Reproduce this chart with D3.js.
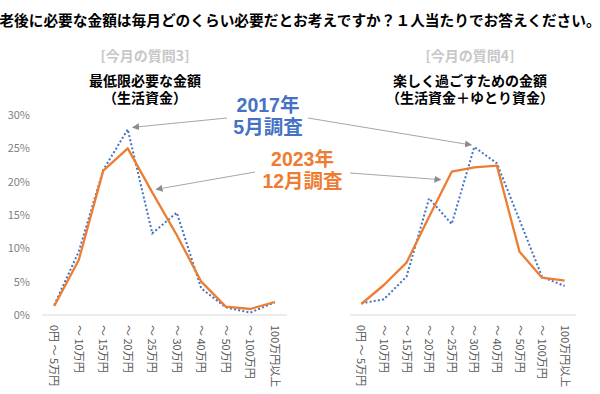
<!DOCTYPE html>
<html><head><meta charset="utf-8">
<script src="https://cdn.jsdelivr.net/npm/d3@7"></script>
<style>
html,body{margin:0;padding:0;background:#fff;}
#wrap{position:relative;width:600px;height:394px;font-family:"Noto Sans CJK JP","Noto Sans",sans-serif;}
svg{display:block;position:absolute;left:0;top:0;font-family:"Noto Sans CJK JP","Noto Sans",sans-serif;}
.lbl{position:absolute;white-space:nowrap;text-align:center;transform:translateX(-50%);font-weight:bold;
     font-family:"Liberation Sans","Noto Sans CJK JP",sans-serif;}
</style></head>
<body>
<div id="wrap"><svg id="chart" width="600" height="394"></svg></div>
<script>
const categories = ["0円 〜 5万円","〜 10万円","〜 15万円","〜 20万円","〜 25万円","〜 30万円","〜 40万円","〜 50万円","〜 100万円","100万円以上"];
const yTicks = [0, 5, 10, 15, 20, 25, 30];
// 最低限必要な金額 (%)
const min2017 = [1.5, 9.5, 21.75, 27.85, 12.25, 15.35, 4.0, 1.15, 0.35, 1.9];
const min2023 = [1.35, 8.25, 21.65, 25.0, 18.4, 12.0, 5.0, 1.25, 0.9, 1.95];
// 楽しく過ごすための金額 (%)
const comf2017 = [1.75, 2.35, 5.75, 17.5, 13.65, 25.2, 22.75, 14.25, 5.7, 4.35];
const comf2023 = [1.65, 4.5, 7.85, 14.75, 21.5, 22.15, 22.4, 9.5, 5.6, 5.15];

const BLUE = "#4472C4", ORANGE = "#ED7D31", ARROW = "#a6a6a6";
const svg = d3.select("#chart");
const wrap = d3.select("#wrap");

svg.append("defs").append("marker")
  .attr("id","ah").attr("viewBox","0 0 10 10").attr("refX",9).attr("refY",5)
  .attr("markerWidth",7).attr("markerHeight",7).attr("orient","auto")
  .append("path").attr("d","M0,0 L10,5 L0,10 z").attr("fill","#8c8c8c");

const y = d3.scaleLinear().domain([0, 30]).range([315, 115]);

svg.append("text").attr("x", 300).attr("y", 26).attr("text-anchor","middle")
  .attr("font-size", 14.7).attr("font-weight","bold").attr("fill","#000")
  .text("老後に必要な金額は毎月どのくらい必要だとお考えですか？１人当たりでお答えください。");

// two-line label as a single block; metrics of primary font (Liberation Sans)
const ASC = 0.905, DESC = 0.212;
function block(cx, yBase, lines, size, gap, color) {
  const top = yBase - ((gap - (ASC + DESC) * size) / 2 + ASC * size);
  const d = wrap.append("div").attr("class","lbl")
    .style("left", cx + "px").style("top", top + "px")
    .style("font-size", size + "px").style("line-height", gap + "px").style("color", color);
  d.html(lines.join("<br>"));
}

function panel(x0, x1, s2017, s2023, tag, line1, line2, cx, showY) {
  const x = d3.scaleBand().domain(categories).range([x0, x1]);
  const px = d => x(d) + x.bandwidth()/2;
  const g = svg.append("g");
  g.append("text").attr("x", cx).attr("y", 60.5).attr("text-anchor","middle")
    .attr("font-size", 14).attr("font-weight","bold").attr("fill","#c8c8c8").text(tag);
  block(cx, 86.5, [line1, line2], 14, 16.5, "#000");
  g.append("line").attr("x1", x0).attr("x2", x1).attr("y1", y(0)).attr("y2", y(0))
    .attr("stroke","#d9d9d9").attr("stroke-width",1);
  if (showY) {
    g.selectAll(".yt").data(yTicks).join("text")
      .attr("x", 30).attr("y", d => y(d)).attr("dy","0.35em").attr("text-anchor","end")
      .attr("font-size", 11).attr("fill","#7f7f7f").text(d => d + "%");
  }
  g.selectAll(".cl").data(categories).join("text")
    .attr("transform", d => `translate(${px(d)},325) rotate(90)`)
    .attr("dy","0.35em").attr("font-size", 11).attr("fill","#595959").text(d => d);
  const line = d3.line().x((d,i) => px(categories[i])).y(d => y(d));
  g.append("path").attr("d", line(s2017)).attr("fill","none").attr("stroke", BLUE)
    .attr("stroke-width", 2).attr("stroke-dasharray","2,2.2");
  g.append("path").attr("d", line(s2023)).attr("fill","none").attr("stroke", ORANGE)
    .attr("stroke-width", 2.3).attr("stroke-linejoin","round");
  return {x: px, y};
}

const L = panel(42, 287, min2017, min2023, "[今月の質問3]", "最低限必要な金額", "（生活資金）", 145, true);
const R = panel(350, 576, comf2017, comf2023, "[今月の質問4]", "楽しく過ごすための金額", "（生活資金＋ゆとり資金）", 470, false);

block(268, 113, ["2017年", "5月調査"], 19.5, 21.8, BLUE);
block(302.5, 167, ["2023年", "12月調査"], 19.5, 21.8, ORANGE);

const arrows = [
  {from:[227,118], p:L, i:3, v:min2017[3], off:[5,-2]},
  {from:[308,118], p:R, i:5, v:comf2017[5], off:[-3,-2]},
  {from:[255,172], p:L, i:4, v:min2023[4], off:[4,-3]},
  {from:[350,173], p:R, i:4, v:comf2023[4], off:[-11,8]}
];
arrows.forEach(a => {
  svg.append("line").attr("x1", a.from[0]).attr("y1", a.from[1])
    .attr("x2", a.p.x(categories[a.i]) + a.off[0]).attr("y2", a.p.y(a.v) + a.off[1])
    .attr("stroke", ARROW).attr("stroke-width", 1).attr("marker-end","url(#ah)");
});
</script>
</body></html>
